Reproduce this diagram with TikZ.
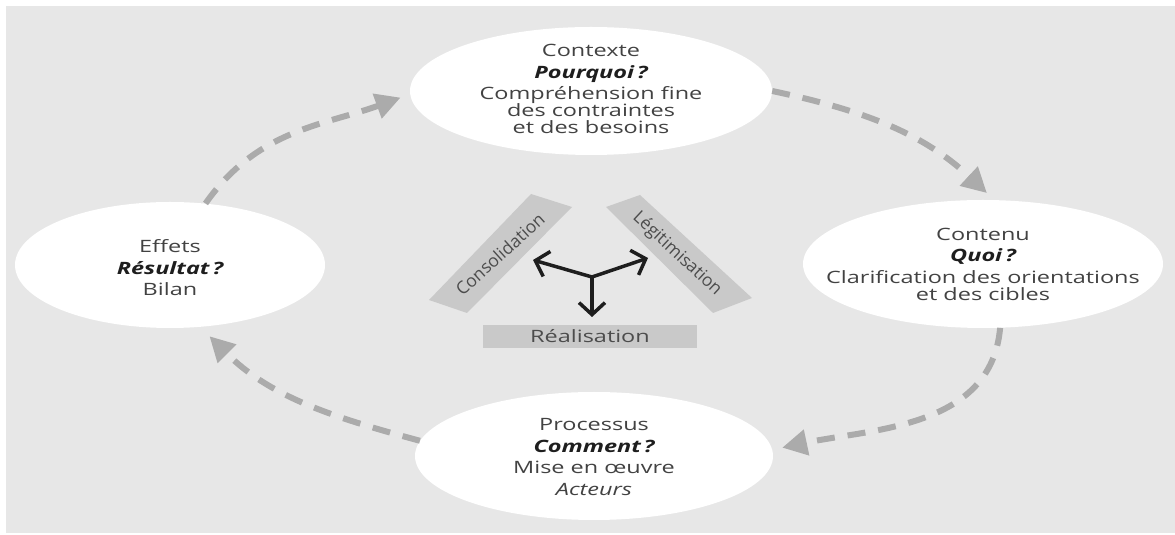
\documentclass[tikz,border=0pt]{standalone}
\usepackage{fontspec}
\setmainfont{Open Sans}[FakeStretch=1.38]
\newfontfamily\slantfont{Open Sans}
\usetikzlibrary{shapes.geometric,arrows.meta}
\definecolor{paper}{HTML}{E7E7E7}
\definecolor{cyclegray}{HTML}{ABABAB}
\definecolor{bargray}{HTML}{C9C9C9}
\definecolor{bodytext}{HTML}{424242}
\definecolor{strongtext}{HTML}{1E1E1E}
\definecolor{bartext}{HTML}{4C4C4C}
\newcommand{\ask}[1]{{\color{strongtext}\bfseries\itshape #1}}
\begin{document}
\begin{tikzpicture}[x=1pt,y=1pt,
  bubble/.style={ellipse, fill=white, draw=none, inner sep=0pt},
  words/.style={text=bodytext, align=center, inner sep=0pt,
                font=\fontsize{17}{21.5}\selectfont},
  cyc/.style={draw=cyclegray, line width=6pt, dash pattern=on 18pt off 13pt,
              -{Triangle[length=25pt,width=25pt]}},
  hubarrow/.style={draw=strongtext, line width=3.5pt,
              -{Straight Barb[length=12pt,width=26pt,line width=3.5pt]}},
  barbox/.style={fill=bargray, inner sep=0pt, text=bartext,
              font=\fontsize{17}{20}\selectfont},
  slanted/.style={text=bartext, inner sep=0pt,
              font=\slantfont\fontsize{17.5}{20}\selectfont}]
\useasboundingbox (0,0) rectangle (1175,535);
\fill[white] (0,0) rectangle (1175,535);
\fill[paper] (6,2) rectangle (1175,529);

% the four stages of the cycle
\node[bubble, minimum width=362pt, minimum height=128pt] (ctx) at (591,444) {};
\node[bubble, minimum width=360pt, minimum height=128pt] (cnt) at (983,271) {};
\node[bubble, minimum width=358pt, minimum height=128pt] (prc) at (594,79) {};
\node[bubble, minimum width=310pt, minimum height=126pt] (eff) at (170,270) {};

\node[words] (ctxtext) at (591,446) {Contexte\\ \ask{Pourquoi\,?}\\Compréhension fine\\[-4.5pt]des contraintes\\[-4.5pt]et des besoins};
\node[words] (cnttext) at (983,271) {Contenu\\ \ask{Quoi\,?}\\Clarification des orientations\\[-4.5pt]et des cibles};
\node[words] (prctext) at (594,78) {Processus\\ \ask{Comment\,?}\\Mise en œuvre\\ \textit{Acteurs}};
\node[words] (efftext) at (170,267) {Effets\\ \ask{Résultat\,?}\\Bilan};

% dashed cycle between the stages
\draw[cyc, shorten >=10pt] (eff.60) to[out=55, in=200] (ctx.181.5);
\draw[cyc, shorten >=10pt] (ctx.east) to[out=-12, in=137] (cnt.80);
\draw[cyc, shorten >=10pt] (cnt.-75) to[out=-95, in=12] (prc.2);
\draw[cyc, shorten >=13pt] (prc.175) to[out=165, in=-45] (eff.-64);

% central triangle of bars
\fill[bargray] (429,235) -- (467,222) -- (572,328) -- (531,341) -- cycle;
\fill[bargray] (713,222) -- (752,237) -- (640,340) -- (606,328) -- cycle;
\node[slanted, rotate=42] (cons) at (500,281) {Consolidation};
\node[slanted, rotate=-43] (legi) at (677,281) {Légitimisation};
\node[barbox, minimum width=214pt, minimum height=23pt] (real) at (590,198.5) {Réalisation};

% three-way arrow in the middle
\coordinate (hub) at (592,258);
\coordinate (tipL) at (533,275);
\coordinate (tipR) at (648,277);
\coordinate (tipD) at (592,218);
\draw[hubarrow] (hub) -- (tipL);
\draw[hubarrow] (hub) -- (tipR);
\draw[hubarrow] (hub) -- (tipD);
\end{tikzpicture}
\end{document}
